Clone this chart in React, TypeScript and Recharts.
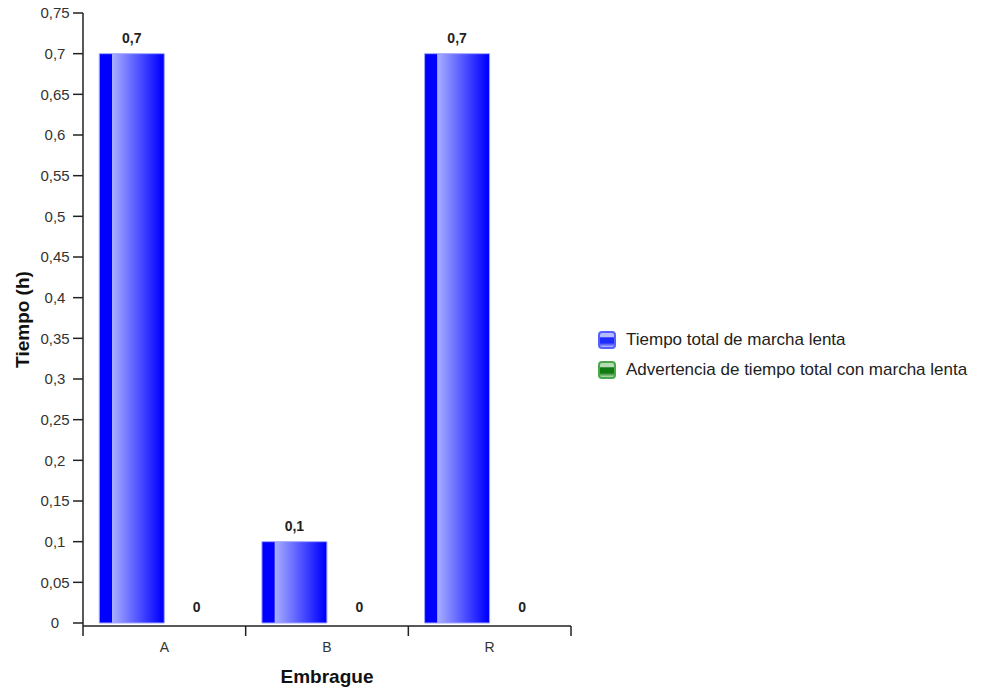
import { Bar, BarChart, Rectangle, XAxis, YAxis } from "recharts";

const CATEGORIES = ["A", "B", "R"];
const TIEMPO_TOTAL = [0.7, 0.1, 0.7];
const ADVERTENCIA = [0, 0, 0];
const Y_TICKS = [0, 0.05, 0.1, 0.15, 0.2, 0.25, 0.3, 0.35, 0.4, 0.45, 0.5, 0.55, 0.6, 0.65, 0.7, 0.75];

const SERIES = [
  { key: "total", name: "Tiempo total de marcha lenta", fill: "url(#gradBlue)", stroke: "#a0a6ff", icon: "#1e2cff", iconLight: "#b8bcff", iconBorder: "#5560ff" },
  { key: "warn", name: "Advertencia de tiempo total con marcha lenta", fill: "url(#gradGreen)", stroke: "#80c080", icon: "#117a11", iconLight: "#b6dcb6", iconBorder: "#4aa84a" },
];

const data = CATEGORIES.map((c, i) => ({ cat: c, total: TIEMPO_TOTAL[i], warn: ADVERTENCIA[i] }));

const FONT = "'Liberation Sans', Arial, sans-serif";
const fmt = (v: unknown) => String(v).replace(".", ",");

function YTick({ x, y, payload }: any) {
  return (
    <text x={x - 16} y={y} dy="0.35em" textAnchor="middle" fontSize={15} fontFamily={FONT} fill="#333">
      {fmt(payload.value)}
    </text>
  );
}

function XTick({ x, y, payload, index, visibleTicksCount }: any) {
  const half = payload.offset ?? 0;
  const isLast = index === visibleTicksCount - 1;
  return (
    <g>
      <line x1={x - half} x2={x - half} y1={y - 16} y2={y - 6} stroke="#222" strokeWidth={1.5} />
      {isLast && <line x1={x + half} x2={x + half} y1={y - 16} y2={y - 6} stroke="#222" strokeWidth={1.5} />}
      <text x={x} y={y} dy="0.71em" textAnchor="middle" fontSize={14} fontFamily={FONT} fill="#333">
        {payload.value}
      </text>
    </g>
  );
}

// bar with its value label drawn above it, so zero bars still get their "0"
function makeShape(key: string) {
  return (props: any) => {
    const { x, y, width, height, payload } = props;
    return (
      <g>
        {height > 0 && <Rectangle {...props} />}
        <text
          x={x + width / 2}
          y={y - 11}
          textAnchor="middle"
          fontSize={14}
          fontWeight="bold"
          fontFamily={FONT}
          fill="#222"
        >
          {fmt(payload[key])}
        </text>
      </g>
    );
  };
}

function LegendBox() {
  return (
    <div style={{ position: "absolute", left: 598, top: 325, fontFamily: FONT, fontSize: 17, color: "#222" }}>
      {SERIES.map((s) => (
        <div key={s.key} style={{ display: "flex", alignItems: "center", height: 30 }}>
          <span
            style={{
              boxSizing: "border-box",
              width: 18,
              height: 18,
              borderRadius: 4,
              border: `2px solid ${s.iconBorder}`,
              background: `linear-gradient(${s.iconLight}, ${s.iconLight} 25%, ${s.icon} 35%, ${s.icon} 70%, ${s.iconLight})`,
              marginRight: 10,
            }}
          />
          {s.name}
        </div>
      ))}
    </div>
  );
}

export default function App() {
  return (
    <div style={{ position: "absolute", left: 0, top: 0, width: 983, height: 691, background: "#fff" }}>
      <BarChart
        width={983}
        height={691}
        data={data}
        margin={{ top: 13, right: 412, bottom: 0, left: 0 }}
        barCategoryGap="10%"
        barGap={0}
      >
        <defs>
          <linearGradient id="gradBlue" x1="0" y1="0" x2="1" y2="0">
            <stop offset="0" stopColor="#0000ff" />
            <stop offset="0.19" stopColor="#0000ff" />
            <stop offset="0.2" stopColor="#a8aeff" />
            <stop offset="0.97" stopColor="#0000ff" />
            <stop offset="1" stopColor="#0000ff" />
          </linearGradient>
          <linearGradient id="gradGreen" x1="0" y1="0" x2="1" y2="0">
            <stop offset="0" stopColor="#008000" />
            <stop offset="0.19" stopColor="#008000" />
            <stop offset="0.2" stopColor="#a8d8a8" />
            <stop offset="1" stopColor="#008000" />
          </linearGradient>
        </defs>
        <XAxis
          dataKey="cat"
          height={65}
          tickLine={false}
          tickSize={10}
          tickMargin={6}
          tick={<XTick />}
          axisLine={{ stroke: "#222", strokeWidth: 1.5 }}
          label={{ value: "Embrague", position: "insideBottom", offset: 8, fontSize: 19, fontWeight: "bold", fontFamily: FONT, fill: "#111" }}
        />
        <YAxis
          width={83}
          domain={[0, 0.75]}
          ticks={Y_TICKS}
          interval={0}
          padding={{ bottom: 3 }}
          tickSize={10}
          tickMargin={2}
          tick={<YTick />}
          tickLine={{ stroke: "#222", strokeWidth: 1.5 }}
          axisLine={{ stroke: "#222", strokeWidth: 1.5 }}
          label={{
            value: "Tiempo (h)",
            angle: -90,
            position: "insideLeft",
            offset: 22,
            textAnchor: "middle",
            fontSize: 19,
            fontWeight: "bold",
            fontFamily: FONT,
            fill: "#111",
          }}
        />
        {SERIES.map((s) => (
          <Bar
            key={s.key}
            dataKey={s.key}
            name={s.name}
            fill={s.fill}
            stroke={s.stroke}
            strokeWidth={1}
            shape={makeShape(s.key)}
            isAnimationActive={false}
          />
        ))}
      </BarChart>
      <LegendBox />
    </div>
  );
}
